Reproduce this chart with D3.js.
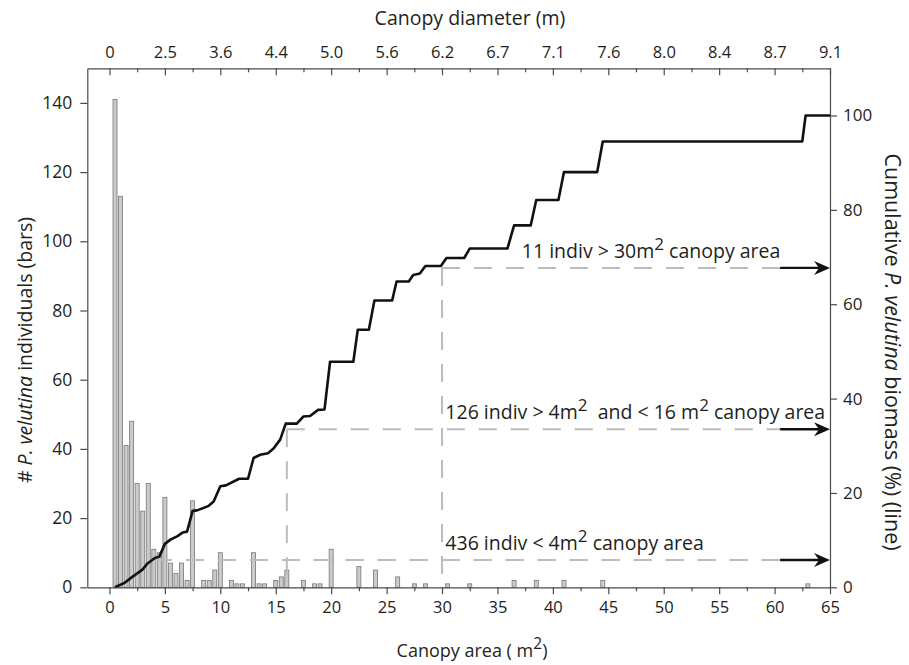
<!DOCTYPE html>
<html>
<head>
<meta charset="utf-8">
<script src="https://cdn.jsdelivr.net/npm/d3@7"></script>
<style>
  html, body { margin: 0; padding: 0; background: #fff; }
  svg { display: block; font-family: "Open Sans", "Noto Sans", sans-serif; }
</style>
</head>
<body>
<svg id="chart" width="909" height="665"></svg>
<script>
// ---------------- DATA ----------------
// Histogram: canopy area class centres (m^2) and number of individuals
const barArea  = [0.5, 1.0, 1.5, 2.0, 2.5, 3.0, 3.5, 4.0, 4.5, 5.0, 5.5, 6.0, 6.5, 7.0, 7.5,
                  8.5, 9.0, 9.5, 10.0, 11.0, 11.5, 12.0, 13.0, 13.5, 14.0, 15.0, 15.5, 16.0,
                  17.5, 18.5, 19.0, 20.0, 22.5, 24.0, 26.0, 27.5, 28.5, 30.5, 32.5,
                  36.5, 38.5, 41.0, 44.5, 63.0];
const barCount = [141, 113, 41, 48, 30, 22, 30, 11, 10, 26, 7, 4, 7, 2, 25,
                  2, 2, 5, 10, 2, 1, 1, 10, 1, 1, 2, 3, 5,
                  2, 1, 1, 11, 6, 5, 3, 1, 1, 1, 1,
                  2, 2, 2, 2, 1];

// Cumulative biomass line (canopy area m^2, cumulative %)
const lineArea = [0.5, 1.4, 2.0, 3.0, 3.4, 4.1, 4.5, 5.0, 5.5, 6.1, 6.6, 7.0, 7.5, 7.9, 8.9, 9.4,
                  10.0, 10.5, 11.7, 12.5, 13.0, 13.6, 14.3, 14.8, 15.4, 15.9, 16.9, 17.5, 18.1,
                  18.8, 19.4, 19.9, 22.0, 22.4, 23.4, 23.9, 25.5, 25.9, 27.0, 27.4, 28.0, 28.5,
                  29.9, 30.4, 32.0, 32.5, 35.9, 36.5, 38.0, 38.5, 40.5, 41.0, 44.0, 44.5,
                  62.5, 62.8, 65.0];
const linePct  = [0, 1.0, 2.1, 3.8, 5.0, 6.2, 6.5, 9.2, 10.1, 10.8, 11.6, 11.8, 16.2, 16.3, 17.2, 18.2,
                  21.4, 21.6, 23.0, 23.0, 27.4, 28.1, 28.4, 29.4, 31.3, 34.7, 34.7, 36.2, 36.3,
                  37.6, 37.7, 47.8, 47.8, 54.6, 54.6, 60.8, 60.8, 64.8, 64.8, 66.2, 66.5, 68.1,
                  68.1, 69.8, 69.8, 71.8, 71.8, 76.7, 76.7, 82.1, 82.1, 88.0, 88.0, 94.5,
                  94.5, 100, 100];

// Axis ticks
const bottomTicks = [0, 5, 10, 15, 20, 25, 30, 35, 40, 45, 50, 55, 60, 65];
const minorTicks  = [2.5, 7.5, 12.5, 17.5, 22.5, 27.5, 32.5, 37.5, 42.5, 47.5, 52.5, 57.5, 62.5];
const topLabels   = ["0", "2.5", "3.6", "4.4", "5.0", "5.6", "6.2", "6.7", "7.1", "7.6", "8.0", "8.4", "8.7", "9.1"];
const leftTicks   = [0, 20, 40, 60, 80, 100, 120, 140];
const rightTicks  = [0, 20, 40, 60, 80, 100];

// Reference thresholds (canopy area m^2) and cumulative biomass levels (%)
const refArea   = [4, 16, 30];
const refLevel  = [5.8, 33.5, 67.7];
const refVertical = [false, true, true];
const arrowFrom = 60.5;
const refLabels = [
  [["436 indiv < 4m", false], ["2", true], [" canopy area", false]],
  [["126 indiv > 4m", false], ["2", true], ["\u00a0 and < 16 m", false], ["2", true], [" canopy area", false]],
  [["11 indiv > 30m", false], ["2", true], [" canopy area", false]]
];
const refLabelArea = [30.3, 30.3, 37.2];

// ---------------- CHART ----------------
const svg = d3.select("#chart");
const axisColor = "#4a4a4a";
const textColor = "#231f20";

const x  = d3.scaleLinear().domain([-2, 65]).range([87.3, 830]);
const yL = d3.scaleLinear().domain([0, 150]).range([587.3, 68.3]);
const yR = d3.scaleLinear().domain([0, 110]).range([587.3, 68.3]);

// Bars
const barW = x(0.36) - x(0);
svg.append("g").selectAll("rect")
  .data(barArea.map((a, i) => ({a, c: barCount[i]})))
  .join("rect")
  .attr("x", d => x(d.a) - barW / 2)
  .attr("y", d => yL(d.c))
  .attr("width", barW)
  .attr("height", d => yL(0) - yL(d.c))
  .attr("fill", "#cbcbcb")
  .attr("stroke", "#777")
  .attr("stroke-width", 0.8);

// Dashed reference lines
const dashG = svg.append("g")
  .attr("stroke", "#bcbcbc")
  .attr("stroke-width", 2)
  .attr("stroke-dasharray", "18,14")
  .attr("fill", "none");
refArea.forEach((a, i) => {
  dashG.append("line")
    .attr("x1", x(a)).attr("x2", x(arrowFrom))
    .attr("y1", yR(refLevel[i])).attr("y2", yR(refLevel[i]));
  if (refVertical[i]) {
    dashG.append("line")
      .attr("x1", x(a)).attr("x2", x(a))
      .attr("y1", yR(refLevel[i])).attr("y2", yR(0));
  }
});

// Cumulative line
const pts = lineArea.map((a, i) => [a, linePct[i]]);
svg.append("path")
  .datum(pts)
  .attr("d", d3.line().x(d => x(d[0])).y(d => yR(d[1])))
  .attr("fill", "none")
  .attr("stroke", "#111")
  .attr("stroke-width", 2.6)
  .attr("stroke-linejoin", "round");

// Arrows
const arrowG = svg.append("g");
refLevel.forEach(l => {
  const y = yR(l), tip = x(65);
  arrowG.append("line")
    .attr("x1", x(arrowFrom)).attr("x2", tip - 10)
    .attr("y1", y).attr("y2", y)
    .attr("stroke", "#111").attr("stroke-width", 2.4);
  arrowG.append("path")
    .attr("d", `M${tip},${y} L${tip - 16},${y - 7} L${tip - 11},${y} L${tip - 16},${y + 7} Z`)
    .attr("fill", "#111");
});

// Annotation labels
refLabels.forEach((segs, i) => {
  const t = svg.append("text")
    .attr("x", x(refLabelArea[i]))
    .attr("y", yR(refLevel[i]) - 10)
    .attr("font-size", 19.5)
    .attr("fill", textColor);
  let raised = false;
  segs.forEach(([s, sup]) => {
    const ts = t.append("tspan").text(s);
    if (sup) { ts.attr("dy", -8).attr("font-size", 17); raised = true; }
    else if (raised) { ts.attr("dy", 8); raised = false; }
  });
});

// Axes
function styleAxis(g, fs) {
  g.selectAll("path.domain").attr("stroke", axisColor).attr("stroke-width", 1.2);
  g.selectAll(".tick line").attr("stroke", axisColor).attr("stroke-width", 1.2);
  g.selectAll(".tick text").attr("fill", textColor).attr("font-size", fs)
    .attr("font-family", "'Open Sans', 'Noto Sans', sans-serif");
}

// bottom
const gB = svg.append("g").attr("transform", `translate(0,${yL(0)})`)
  .call(d3.axisBottom(x).tickValues(bottomTicks).tickSize(7).tickSizeOuter(0).tickPadding(7));
styleAxis(gB, 16.5);
const gBm = svg.append("g").attr("transform", `translate(0,${yL(0)})`)
  .call(d3.axisBottom(x).tickValues(minorTicks).tickSize(4).tickSizeOuter(0).tickFormat(""));
styleAxis(gBm, 16.5);
gBm.select("path.domain").remove();

// top
const gT = svg.append("g").attr("transform", `translate(0,${yL(150)})`)
  .call(d3.axisTop(x).tickValues(bottomTicks).tickSize(-7).tickSizeOuter(0).tickPadding(10)
    .tickFormat((d, i) => topLabels[i]));
styleAxis(gT, 16.5);
const gTm = svg.append("g").attr("transform", `translate(0,${yL(150)})`)
  .call(d3.axisTop(x).tickValues(minorTicks).tickSize(-4).tickSizeOuter(0).tickFormat(""));
styleAxis(gTm, 16.5);
gTm.select("path.domain").remove();

// left
const gL = svg.append("g").attr("transform", `translate(${x(-2)},0)`)
  .call(d3.axisLeft(yL).tickValues(leftTicks).tickSize(7).tickSizeOuter(0).tickPadding(8));
styleAxis(gL, 17.5);

// right
const gR = svg.append("g").attr("transform", `translate(${x(65)},0)`)
  .call(d3.axisRight(yR).tickValues(rightTicks).tickSize(7).tickSizeOuter(0).tickPadding(6));
styleAxis(gR, 17);

// Titles
svg.append("text").attr("x", 470).attr("y", 25)
  .attr("text-anchor", "middle").attr("font-size", 19.5).attr("fill", textColor)
  .text("Canopy diameter (m)");

const botT = svg.append("text").attr("x", 472).attr("y", 657)
  .attr("text-anchor", "middle").attr("font-size", 18).attr("fill", textColor);
botT.append("tspan").text("Canopy area ( m");
botT.append("tspan").attr("dy", -8).attr("font-size", 15.5).text("2");
botT.append("tspan").attr("dy", 8).text(")");

const leftT = svg.append("text")
  .attr("transform", "translate(32,350) rotate(-90)")
  .attr("text-anchor", "middle").attr("font-size", 19.5).attr("fill", textColor);
leftT.append("tspan").text("# ");
leftT.append("tspan").attr("font-style", "italic").text("P. velutina");
leftT.append("tspan").text(" individuals (bars)");

const rightT = svg.append("text")
  .attr("transform", "translate(885,352) rotate(90)")
  .attr("text-anchor", "middle").attr("font-size", 21.5).attr("fill", textColor);
rightT.append("tspan").text("Cumulative ");
rightT.append("tspan").attr("font-style", "italic").text("P. velutina");
rightT.append("tspan").text(" biomass (%) (line)");
</script>
</body>
</html>
